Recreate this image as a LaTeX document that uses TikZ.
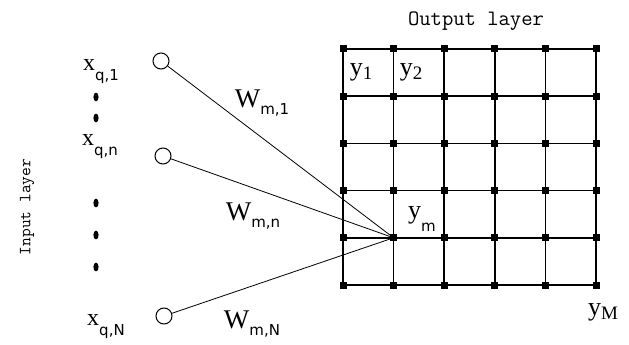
\documentclass[tikz,border=0pt]{standalone}
\usepackage{fontspec}
\setmainfont{Liberation Serif}
\newfontfamily\subsf{DejaVu Sans}
\usetikzlibrary{positioning}
% letter with a lowered sans subscript
\newcommand{\sublow}[3][9pt]{#2\raisebox{-#1}{\fontsize{15}{15}\selectfont\subsf #3}}
% letter with a lowered serif index
\newcommand{\subser}[2]{#1\raisebox{-4pt}{\fontsize{19}{19}\selectfont #2}}

\begin{document}
\begin{tikzpicture}[x=1pt,y=-1pt,
  letter/.style={font=\fontsize{#1}{#1}\selectfont,inner sep=0pt},
  letter/.default=24,
  inpt/.style={circle,draw,inner sep=0pt,minimum size=16pt,line width=1pt},
  gpt/.style={rectangle,fill=black,inner sep=0pt,minimum size=7pt},
  gline/.style={line width=1.6pt},
  wline/.style={line width=0.8pt},
  layer/.style={font=\ttfamily\fontsize{#1}{#1}\selectfont,inner sep=0pt}]
\useasboundingbox (0,0) rectangle (629,345);
% output grid
\foreach \i in {1,...,6} {\foreach \j in {1,...,6} {\node[gpt] (g\i\j) at ({343+50.6*(\i-1)},{49+47.2*(\j-1)}) {};}}
\foreach \k in {1,...,6} {\draw[gline] (g\k1.center) -- (g\k6.center); \draw[gline] (g1\k.center) -- (g6\k.center);}
% input neurons
\node[inpt] (in1) at (161,61) {};
\node[inpt] (inn) at (163,156) {};
\node[inpt] (inN) at (164,316) {};
\foreach \n in {in1,inn,inN} {\draw[wline] (\n) -- (g25.center);}
\foreach \y in {97,118,203,235,267} {\fill (96,\y) ellipse (2.6 and 4.4);}
% labels
\node[letter] (xq1) at (101,72) {\sublow[10pt]{x}{q,1}};
\node[letter] (xqn) at (100,147) {\sublow[10pt]{x}{q,n}};
\node[letter] (xqN) at (106,327) {\sublow[10pt]{x}{q,N}};
\node[letter=27] (wm1) at (262,103) {\sublow[7pt]{W}{m,1}};
\node[letter=27] (wmn) at (253,216) {\sublow[7pt]{W}{m,n}};
\node[letter=27] (wmN) at (252,324) {\sublow[7pt]{W}{m,N}};
\node[letter=26] (y1) at (361,72) {\subser{y}{1}};
\node[letter=26] (y2) at (411,72) {\subser{y}{2}};
\node[letter=26] (ym) at (422,219) {\sublow[13pt]{y}{m}};
\node[letter=26] (yM) at (603,312) {\subser{y}{M}};
\node[layer=22] (outl) at (476,21) {Output layer};
\node[layer=17,rotate=90] (inl) at (27,207) {Input layer};
\end{tikzpicture}
\end{document}
